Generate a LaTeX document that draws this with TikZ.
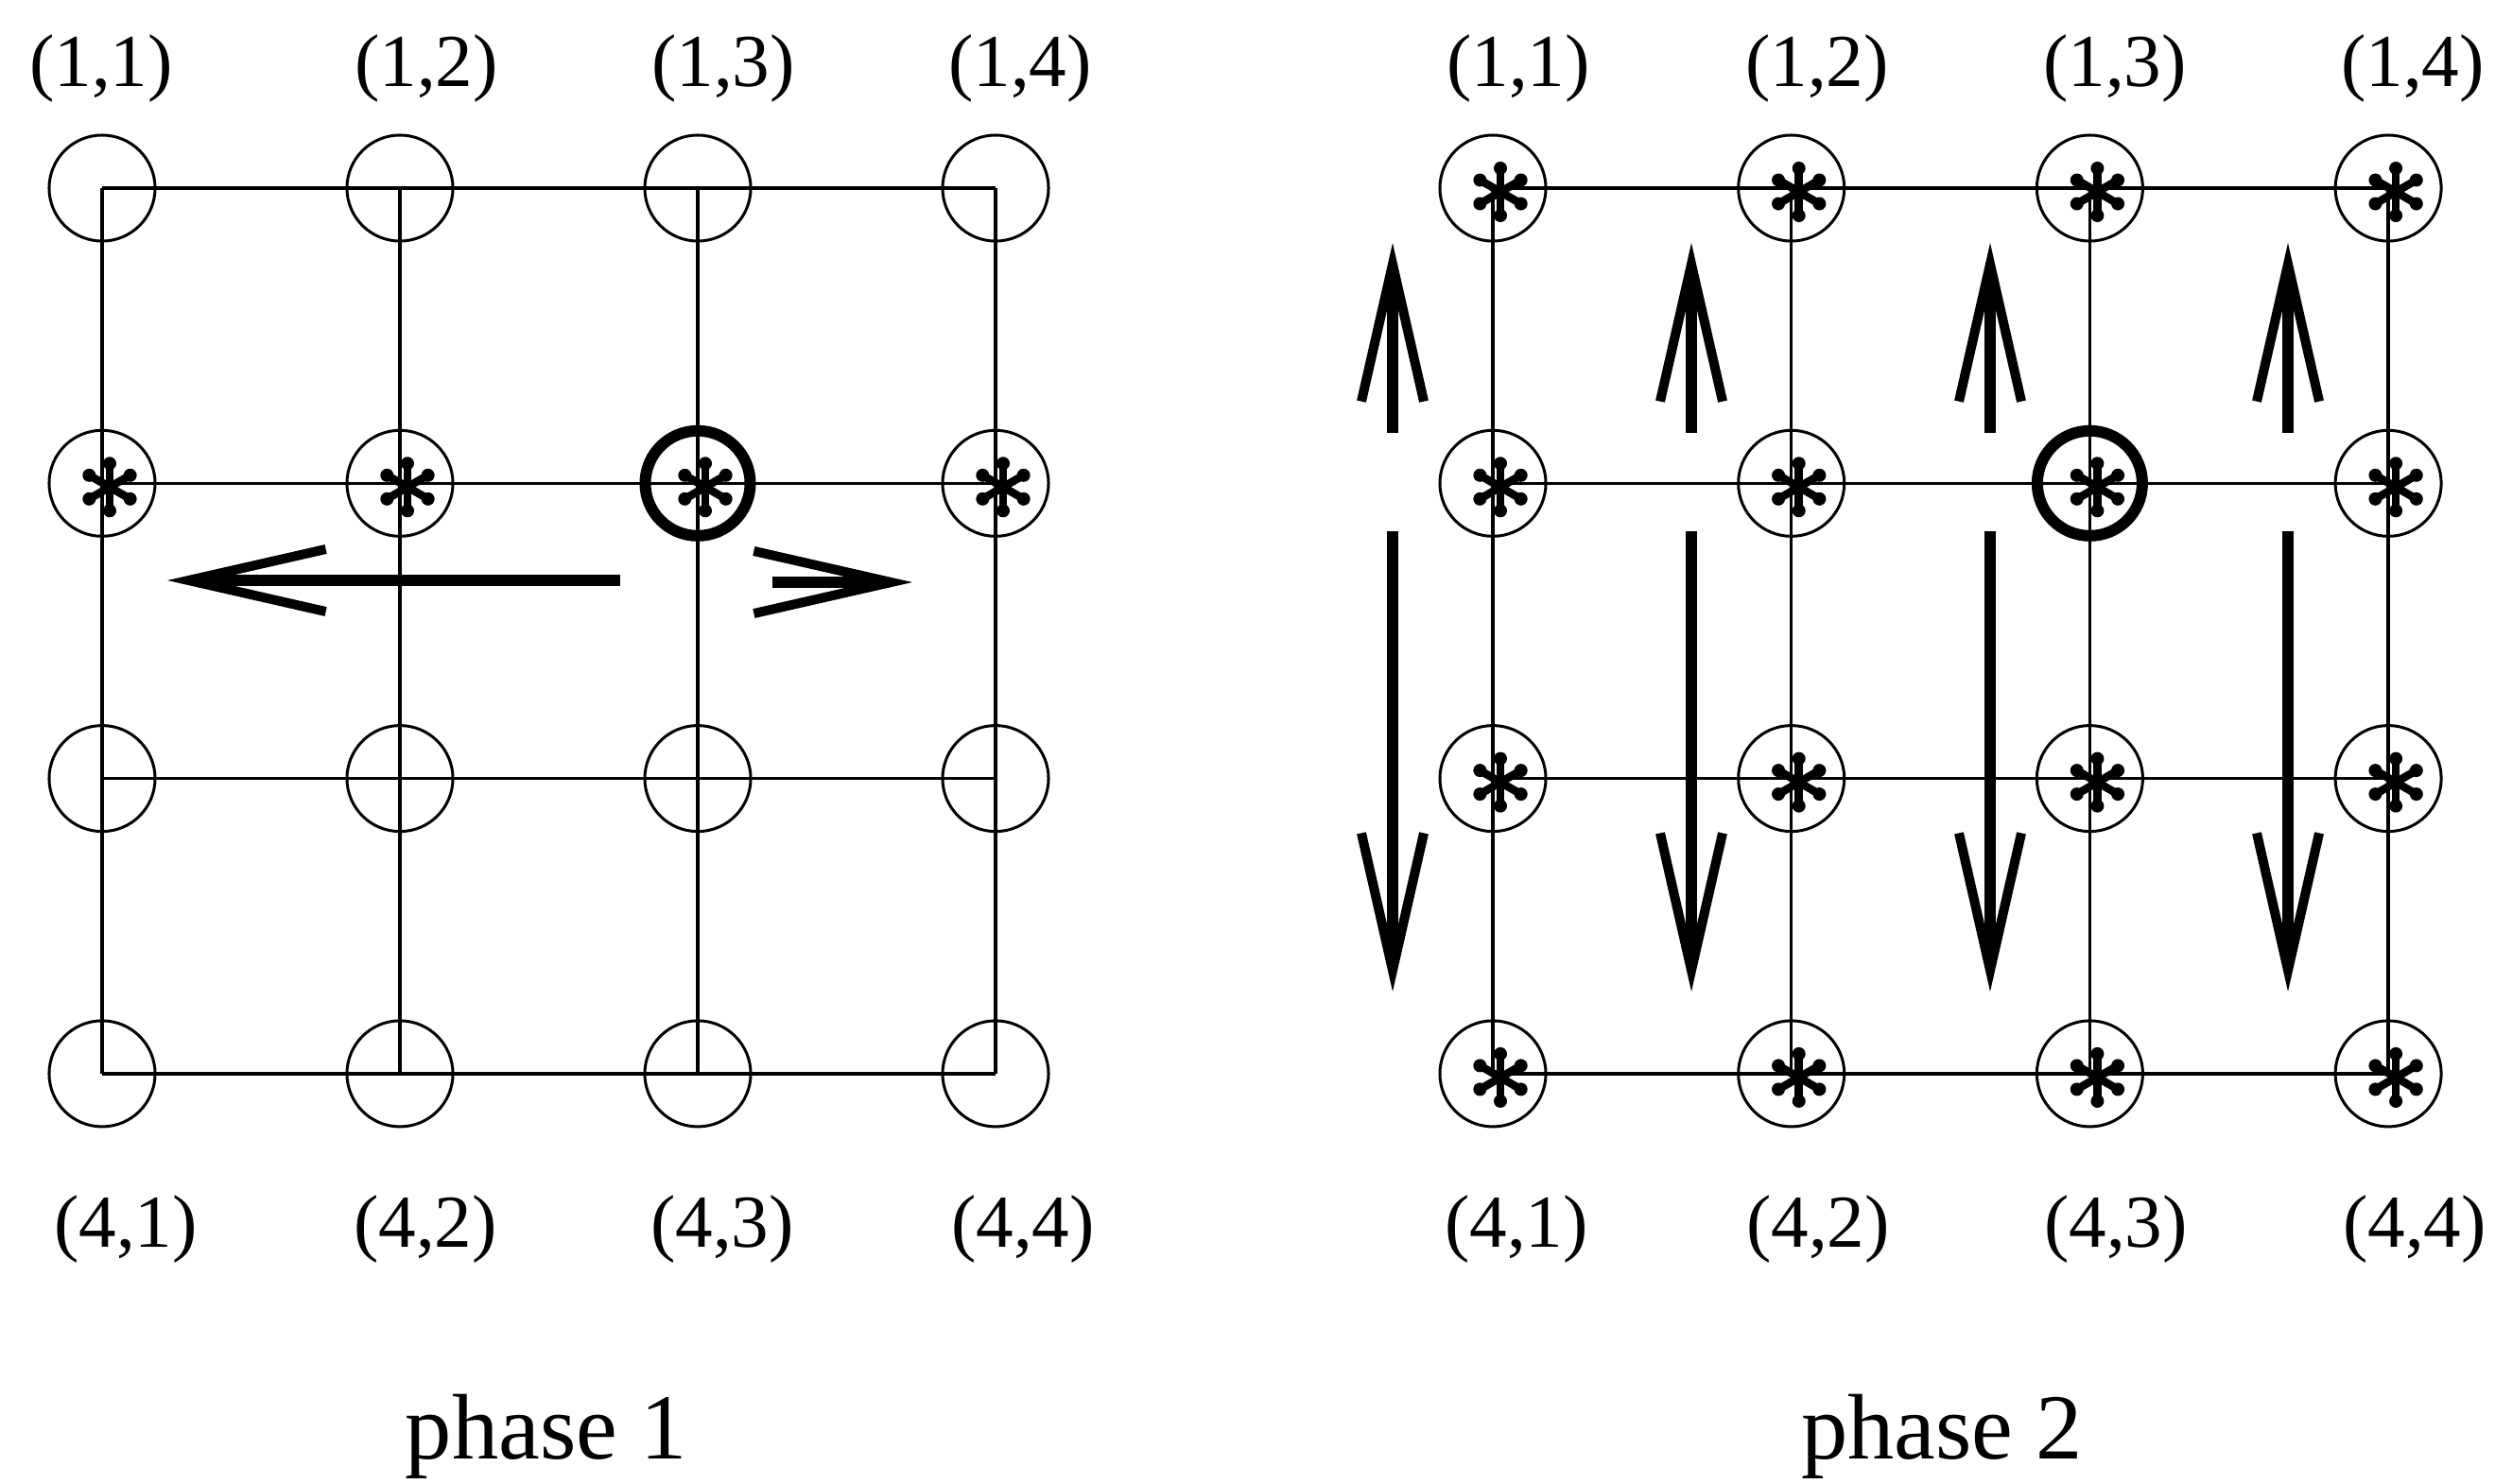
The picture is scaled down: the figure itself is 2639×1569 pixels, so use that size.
\documentclass[tikz,border=0pt]{standalone}
\usepackage{fontspec}
\setmainfont{Liberation Serif}
\usetikzlibrary{arrows.meta}

\begin{document}
\begin{tikzpicture}[x=0.01cm, y=-0.01cm,
site/.style={circle, draw, line width=0.03cm, minimum size=1.12cm, inner sep=0pt},
pivot/.style={circle, draw, line width=0.12cm, minimum size=1.11cm, inner sep=0pt},
gridline/.style={line width=0.035cm},
flow/.style={line width=0.12cm, -{Straight Barb[length=1.45cm, width=0.66cm, line width=0.1cm]}},
coordlabel/.style={font=\fontsize{22.5}{27}\selectfont, inner sep=0pt},
phaselabel/.style={font=\fontsize{28}{34}\selectfont, inner sep=0pt, anchor=base},
spark/.pic={
  \foreach \a in {30,90,150,210,270,330} {
    \draw[line width=0.085cm] (0,0) -- (\a:0.24cm);
    \fill (\a:0.25cm) circle (0.07cm);
  }
}
]
\useasboundingbox (0,0) rectangle (2639,1569);

% Sites of both meshes
\foreach \r in {1,...,4} \foreach \c in {1,...,4} {
  \node[site] (a-\r-\c) at ({108+315*(\c-1)}, {199+312.3*(\r-1)}) {};
  \node[site] (b-\r-\c) at ({1579+315.7*(\c-1)}, {199+312.3*(\r-1)}) {};
}
\node[pivot] (a-pivot) at (a-2-3) {};
\node[pivot] (b-pivot) at (b-2-3) {};

% Mesh links
\foreach \i in {1,...,4} {
  \draw[gridline] (a-\i-1.center) -- (a-\i-4.center);
  \draw[gridline] (a-1-\i.center) -- (a-4-\i.center);
  \draw[gridline] (b-\i-1.center) -- (b-\i-4.center);
  \draw[gridline] (b-1-\i.center) -- (b-4-\i.center);
}

% Marked sites
\foreach \c in {1,...,4} \pic at ([shift={(8,4)}]a-2-\c.center) {spark};
\foreach \r in {1,...,4} \foreach \c in {1,...,4} \pic at ([shift={(8,4)}]b-\r-\c.center) {spark};

% Index labels
\foreach \c/\x in {1/107, 2/451, 3/765, 4/1079} \node[coordlabel] (a-top-\c) at (\x,72) {(1,\c)};
\foreach \c/\x in {1/133, 2/450, 3/764, 4/1082} \node[coordlabel] (a-bot-\c) at (\x,1300) {(4,\c)};
\foreach \c/\x in {1/1606, 2/1922, 3/2237, 4/2552} \node[coordlabel] (b-top-\c) at (\x,72) {(1,\c)};
\foreach \c/\x in {1/1604, 2/1923, 3/2238, 4/2554} \node[coordlabel] (b-bot-\c) at (\x,1300) {(4,\c)};

% Phase 1 - row broadcast
\coordinate (a-left-tail) at (656,614);
\coordinate (a-left-tip) at (177,614);
\coordinate (a-right-tail) at (817,616);
\coordinate (a-right-tip) at (965,616);
\draw[flow] (a-left-tail) -- (a-left-tip);
\draw[flow] (a-right-tail) -- (a-right-tip);

% Phase 2 - column broadcast
\foreach \c/\x in {1/1473, 2/1789, 3/2105, 4/2420} {
  \coordinate (b-up-tail-\c) at (\x,458);
  \coordinate (b-up-tip-\c) at (\x,257);
  \coordinate (b-down-tail-\c) at (\x,562);
  \coordinate (b-down-tip-\c) at (\x,1049);
  \draw[flow] (b-up-tail-\c) -- (b-up-tip-\c);
  \draw[flow] (b-down-tail-\c) -- (b-down-tip-\c);
}

\node[phaselabel] (phase-a) at (578,1543) {phase 1};
\node[phaselabel] (phase-b) at (2054,1543) {phase 2};

\end{tikzpicture}
\end{document}
